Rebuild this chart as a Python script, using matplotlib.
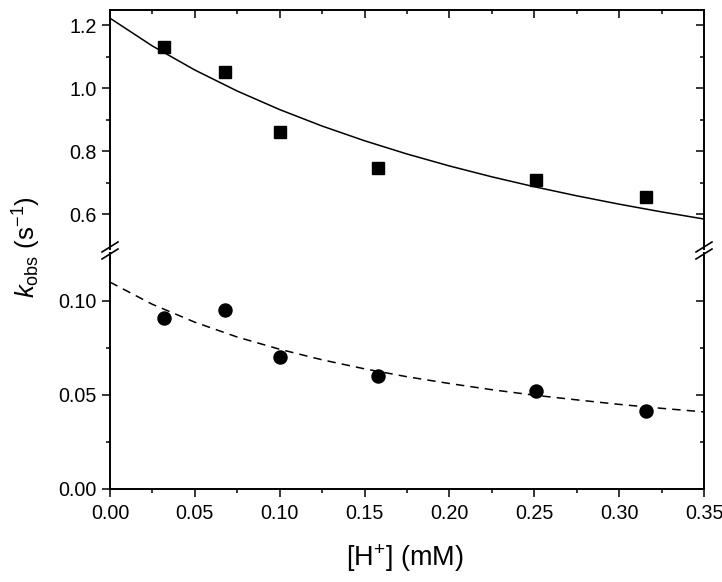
import matplotlib
matplotlib.use("Agg")
import matplotlib.pyplot as plt
from matplotlib.ticker import FixedLocator, FormatStrFormatter
from matplotlib.lines import Line2D

plt.rcParams['font.family'] = ['Liberation Sans', 'DejaVu Sans']
plt.rcParams['mathtext.fontset'] = 'custom'
plt.rcParams['mathtext.rm'] = 'Liberation Sans'
plt.rcParams['mathtext.it'] = 'Liberation Sans:italic'

# ---- data ----
h_conc = [0.0316, 0.0676, 0.100, 0.158, 0.251, 0.316]
k_fast = [1.130, 1.051, 0.862, 0.746, 0.709, 0.654]
k_slow = [0.091, 0.095, 0.070, 0.060, 0.052, 0.0415]

fit_x = [0.0, 0.025, 0.05, 0.075, 0.10, 0.125, 0.15, 0.175, 0.20, 0.225,
         0.25, 0.275, 0.30, 0.325, 0.35]
fit_fast = [1.222, 1.1338, 1.0576, 0.9909, 0.9321, 0.8799, 0.8333, 0.7913,
            0.7534, 0.7189, 0.6875, 0.6587, 0.6322, 0.6077, 0.5851]
fit_slow = [0.1100, 0.0982, 0.0887, 0.0808, 0.0743, 0.0687, 0.0639, 0.0597,
            0.0561, 0.0528, 0.0499, 0.0474, 0.0450, 0.0429, 0.0410]

x_ticks = [0.00, 0.05, 0.10, 0.15, 0.20, 0.25, 0.30, 0.35]
x_minor = [0.025, 0.075, 0.125, 0.175, 0.225, 0.275, 0.325]
top_yticks = [0.6, 0.8, 1.0, 1.2]
top_yminor = [0.7, 0.9, 1.1]
bot_yticks = [0.00, 0.05, 0.10]
bot_yminor = [0.025, 0.075]

W, H = 722, 582
fig = plt.figure(figsize=(W / 100, H / 100), dpi=100)

L, R = 110, 704
top_t, top_b = 10, 249
bot_t, bot_b = 253, 489

def rect(t, b):
    return [L / W, 1 - b / H, (R - L) / W, (b - t) / H]

ax_top = fig.add_axes(rect(top_t, top_b))
ax_bot = fig.add_axes(rect(bot_t, bot_b))

LW_SP = 1.4
TICK_FS = 14.2
MAJ, MIN = 5.8, 3.0

for ax in (ax_top, ax_bot):
    ax.set_xlim(0, 0.35)
    for s in ax.spines.values():
        s.set_linewidth(LW_SP)

ax_top.set_ylim(0.49, 1.248)
ax_bot.set_ylim(0.0, 0.1255)

# data
ax_top.plot(fit_x, fit_fast, color='black', lw=1.1, zorder=2)
ax_top.plot(h_conc, k_fast, ls='none', marker='s', ms=8.6, color='black', zorder=3)
ax_bot.plot(fit_x, fit_slow, color='black', lw=1.1, dashes=(5.5, 4), zorder=2)
ax_bot.plot(h_conc, k_slow, ls='none', marker='o', ms=9.4, color='black', zorder=3)

# top panel styling
ax_top.spines['bottom'].set_visible(False)
ax_top.spines['right'].set_visible(False)
ax_top.spines['top'].set_visible(False)
ax_top.tick_params(axis='x', which='both', bottom=False, top=False, labelbottom=False)
ax_top.yaxis.set_major_locator(FixedLocator(top_yticks))
ax_top.yaxis.set_minor_locator(FixedLocator(top_yminor))
ax_top.yaxis.set_major_formatter(FormatStrFormatter('%.1f'))
ax_top.tick_params(axis='y', which='both', direction='out', left=True, right=False,
                   labelsize=TICK_FS, width=1.1, pad=4)
ax_top.tick_params(axis='y', which='major', length=MAJ)
ax_top.tick_params(axis='y', which='minor', length=MIN)

sx = ax_top.secondary_xaxis('top')
sx.xaxis.set_major_locator(FixedLocator(x_ticks))
sx.xaxis.set_minor_locator(FixedLocator(x_minor))
sx.tick_params(axis='x', which='both', direction='in', labeltop=False, width=1.1)
sx.tick_params(axis='x', which='major', length=MAJ)
sx.tick_params(axis='x', which='minor', length=MIN)
sx.spines['top'].set_linewidth(LW_SP)

sy = ax_top.secondary_yaxis('right')
sy.yaxis.set_major_locator(FixedLocator(top_yticks))
sy.yaxis.set_minor_locator(FixedLocator(top_yminor))
sy.tick_params(axis='y', which='both', direction='in', labelright=False, width=1.1)
sy.tick_params(axis='y', which='major', length=MAJ)
sy.tick_params(axis='y', which='minor', length=MIN)
sy.spines['right'].set_linewidth(LW_SP)

# bottom panel styling
ax_bot.spines['top'].set_visible(False)
ax_bot.spines['right'].set_visible(False)
ax_bot.xaxis.set_major_locator(FixedLocator(x_ticks))
ax_bot.xaxis.set_minor_locator(FixedLocator(x_minor))
ax_bot.xaxis.set_major_formatter(FormatStrFormatter('%.2f'))
ax_bot.tick_params(axis='x', which='both', direction='out', bottom=True, top=False,
                   labelsize=TICK_FS, width=1.1, pad=5)
ax_bot.tick_params(axis='x', which='major', length=MAJ)
ax_bot.tick_params(axis='x', which='minor', length=MIN)
ax_bot.yaxis.set_major_locator(FixedLocator(bot_yticks))
ax_bot.yaxis.set_minor_locator(FixedLocator(bot_yminor))
ax_bot.yaxis.set_major_formatter(FormatStrFormatter('%.2f'))
ax_bot.tick_params(axis='y', which='both', direction='out', left=True, right=False,
                   labelsize=TICK_FS, width=1.1, pad=4)
ax_bot.tick_params(axis='y', which='major', length=MAJ)
ax_bot.tick_params(axis='y', which='minor', length=MIN)

sy2 = ax_bot.secondary_yaxis('right')
sy2.yaxis.set_major_locator(FixedLocator(bot_yticks))
sy2.yaxis.set_minor_locator(FixedLocator(bot_yminor))
sy2.tick_params(axis='y', which='both', direction='in', labelright=False, width=1.1)
sy2.tick_params(axis='y', which='major', length=MAJ)
sy2.tick_params(axis='y', which='minor', length=MIN)
sy2.spines['right'].set_linewidth(LW_SP)

# break marks (pixel coordinates -> figure fraction)
def fig_line(x0, y0, x1, y1):
    fig.add_artist(Line2D([x0 / W, x1 / W], [1 - y0 / H, 1 - y1 / H],
                          color='black', lw=1.2, transform=fig.transFigure))

for xc in (L, R):
    fig_line(xc - 8, 252, xc + 8, 242)
    fig_line(xc - 8, 259, xc + 8, 249)

# labels
fig.text(405 / W, 1 - 558 / H, r'[H$^{+}$] (mM)', ha='center', va='center', fontsize=19.5)
fig.text(27 / W, 1 - 247 / H, r'$k_{\mathrm{obs}}$ (s$^{-1}$)', ha='center', va='center',
         rotation=90, fontsize=18.5)

fig.savefig('out.png', dpi=100)
